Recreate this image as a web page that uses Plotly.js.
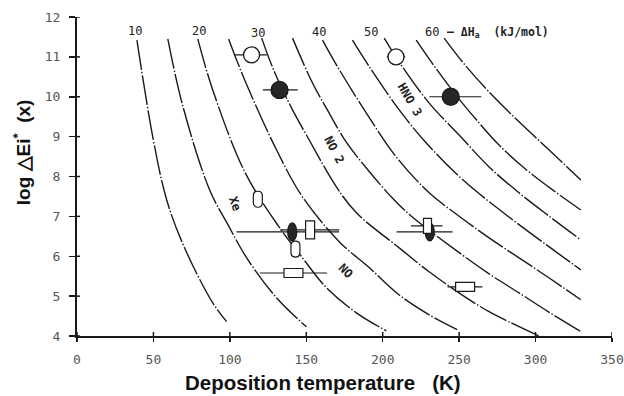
<!DOCTYPE html>
<html>
<head>
<meta charset="utf-8">
<script src="https://cdn.plot.ly/plotly-3.0.1.min.js"></script>
<style>html,body{margin:0;padding:0;background:#fff;}#chart{width:624px;height:396px;}</style>
</head>
<body>
<div id="chart"></div>
<script>
// ΔH iso-lines (kJ/mol): deposition temperature T (K) vs log ΔEi*(x)
const dH = [10, 15, 20, 25, 30, 35, 40, 45, 50, 55, 60];
const t10 = [39.2, 49.6, 58.7, 69.8, 88.8, 97.9];
const l10 = [11.42, 8.99, 7.41, 6.26, 4.83, 4.36];
const t15 = [59.4, 69.2, 86.8, 99.2, 111.0, 130.5, 150.1];
const l15 = [11.45, 9.77, 7.66, 6.76, 5.96, 4.96, 4.23];
const t20 = [79.0, 88.8, 109.7, 131.2, 147.5, 163.2, 182.8, 202.3];
const l20 = [11.45, 10.17, 8.12, 6.79, 5.96, 5.21, 4.58, 4.13];
const t25 = [99.2, 109.7, 130.5, 147.5, 171.7, 191.3, 210.8, 230.4, 248.7];
const l25 = [11.45, 10.42, 8.67, 7.49, 6.36, 5.71, 5.03, 4.53, 4.16];
const t30 = [120.8, 129.2, 141.0, 150.1, 169.7, 182.8, 210.8, 230.4, 250.0, 269.6, 302.2];
const l30 = [11.47, 10.62, 9.67, 9.04, 7.74, 7.09, 6.21, 5.61, 5.08, 4.61, 4.00];
const t35 = [141.0, 154.0, 163.8, 176.2, 191.3, 206.3, 218.0, 250.0, 269.6, 289.2, 308.7, 329.6];
const l35 = [11.47, 10.35, 9.67, 8.86, 8.12, 7.46, 7.03, 6.09, 5.56, 5.08, 4.60, 4.11];
const t40 = [160.6, 169.7, 189.3, 208.9, 230.4, 248.7, 269.6, 289.2, 308.7, 329.6];
const l40 = [11.42, 10.80, 9.59, 8.49, 7.59, 7.04, 6.46, 5.96, 5.46, 4.91];
const t45 = [180.2, 191.3, 210.8, 228.5, 252.6, 280.7, 308.7, 329.6];
const l45 = [11.42, 10.75, 9.67, 8.84, 7.91, 7.04, 6.24, 5.66];
const t50 = [201.0, 210.8, 230.4, 250.0, 269.6, 289.2, 308.7, 329.6];
const l50 = [11.47, 10.87, 9.84, 9.04, 8.24, 7.59, 7.01, 6.41];
const t55 = [221.9, 233.7, 246.7, 259.8, 276.1, 292.4, 312.0, 329.6];
const l55 = [11.42, 10.77, 10.10, 9.49, 8.79, 8.22, 7.64, 7.16];
const t60 = [240.2, 253.3, 269.6, 289.2, 308.7, 329.6];
const l60 = [11.47, 10.82, 10.12, 9.37, 8.67, 7.91];

// iso-line labels along the top
const isoLabels = ['10', '20', '30', '40', '50', '60'];
const isoLabelT = [37.9, 79.6, 118.2, 158.6, 192.4, 232.4];
const isoLabelLog = [11.66, 11.66, 11.60, 11.62, 11.62, 11.62];

// species labels
const specText = ['Xe', 'NO 2', 'HNO 3', 'NO'];
const specT = [103.1, 168.4, 218.0, 175.6];
const specLog = [7.33, 8.67, 9.93, 5.62];
const specAngle = [70, 62, 60, 45];

// circles (with horizontal error bars)
const circT = [114.2, 132.5, 208.7, 244.5];
const circLog = [11.05, 10.17, 11.00, 10.00];
const circErrMinus = [11.0, 10.9, 6.0, 14.0];
const circErrPlus = [10.0, 11.9, 6.0, 20.0];
const circFilled = [false, true, false, true];

// filled ovals
const ovalT = [140.8, 230.8];
const ovalLog = [6.61, 6.61];
const ovalErrMinus = [36.5, 21.7];
const ovalErrPlus = [30.7, 14.9];

// open capsules (no error bars)
const capT = [118.3, 142.9];
const capLog = [7.43, 6.18];

// vertical open rectangles
const vrT = [152.5, 229.3];
const vrLog = [6.66, 6.76];
const vrErrMinus = [19.5, 10.8];
const vrErrPlus = [19.0, 9.8];

// horizontal open rectangles
const hrT = [141.6, 253.9];
const hrLog = [5.58, 5.23];
const hrErrMinus = [22.0, 11.5];
const hrErrPlus = [22.0, 11.3];

const curvesT = [t10, t15, t20, t25, t30, t35, t40, t45, t50, t55, t60];
const curvesL = [l10, l15, l20, l25, l30, l35, l40, l45, l50, l55, l60];

const INK = '#1a1a1a';
const traces = [];
curvesT.forEach((ts, i) => {
  traces.push({
    type: 'scatter', mode: 'lines', x: ts, y: curvesL[i],
    name: 'ΔH = ' + dH[i] + ' kJ/mol', showlegend: false, hoverinfo: 'skip',
    line: {color: INK, width: 1.4, shape: 'spline', smoothing: 1, dash: '30px,2px,1.5px,2px'}
  });
});

function errTrace(x, y, minus, plus) {
  return {
    type: 'scatter', mode: 'markers', x: x, y: y, showlegend: false, hoverinfo: 'skip',
    marker: {size: 1, color: 'rgba(0,0,0,0)', opacity: 1},
    error_x: {type: 'data', symmetric: false, array: plus, arrayminus: minus,
              color: INK, thickness: 1.2, width: 0}
  };
}
traces.push(errTrace(ovalT, ovalLog, ovalErrMinus, ovalErrPlus));
traces.push(errTrace(vrT, vrLog, vrErrMinus, vrErrPlus));
traces.push(errTrace(hrT, hrLog, hrErrMinus, hrErrPlus));
traces.push({
  type: 'scatter', mode: 'markers', x: circT, y: circLog, showlegend: false, hoverinfo: 'skip',
  marker: {symbol: 'circle', size: circFilled.map(f => f ? 17 : 16), opacity: 1,
           color: circFilled.map(f => f ? '#262626' : '#ffffff'),
           line: {color: INK, width: 1.3}},
  error_x: {type: 'data', symmetric: false, array: circErrPlus, arrayminus: circErrMinus,
            color: INK, thickness: 1.2, width: 0}
});

// shapes for marker symbols Plotly lacks (pixel-sized, anchored at data points)
const shapes = [];
ovalT.forEach((t, i) => shapes.push({
  type: 'circle', layer: 'above', xref: 'x', yref: 'y',
  xsizemode: 'pixel', ysizemode: 'pixel', xanchor: t, yanchor: ovalLog[i],
  x0: -4.5, x1: 4.5, y0: -9, y1: 9,
  fillcolor: '#262626', line: {color: INK, width: 1.2}
}));
capT.forEach((t, i) => shapes.push({
  type: 'path', layer: 'above', xref: 'x', yref: 'y',
  xsizemode: 'pixel', ysizemode: 'pixel', xanchor: t, yanchor: capLog[i],
  path: 'M -4.5 -3.5 L -4.5 3.5 C -4.5 9.5 4.5 9.5 4.5 3.5 L 4.5 -3.5 C 4.5 -9.5 -4.5 -9.5 -4.5 -3.5 Z',
  fillcolor: '#ffffff', line: {color: INK, width: 1.2}
}));
const vrW = [9, 8], vrH = [18, 15];
vrT.forEach((t, i) => shapes.push({
  type: 'rect', layer: 'above', xref: 'x', yref: 'y',
  xsizemode: 'pixel', ysizemode: 'pixel', xanchor: t, yanchor: vrLog[i],
  x0: -vrW[i] / 2, x1: vrW[i] / 2, y0: -vrH[i] / 2, y1: vrH[i] / 2,
  fillcolor: '#ffffff', line: {color: INK, width: 1.2}
}));
hrT.forEach((t, i) => shapes.push({
  type: 'rect', layer: 'above', xref: 'x', yref: 'y',
  xsizemode: 'pixel', ysizemode: 'pixel', xanchor: t, yanchor: hrLog[i],
  x0: -9.5, x1: 9.5, y0: -4.5, y1: 4.5,
  fillcolor: '#ffffff', line: {color: INK, width: 1.2}
}));

const xTicks = [0, 50, 100, 150, 200, 250, 300, 350];
const yTicks = [4, 5, 6, 7, 8, 9, 10, 11, 12];
// inner halves of the crossing tick marks, anchored on the axes' tick values
xTicks.forEach(v => shapes.push({
  type: 'line', layer: 'above', xref: 'x', yref: 'paper', ysizemode: 'pixel', yanchor: 0,
  x0: v, x1: v, y0: 0, y1: 4, line: {color: INK, width: 1.5}
}));
yTicks.forEach(v => shapes.push({
  type: 'line', layer: 'above', xref: 'paper', yref: 'y', xsizemode: 'pixel', xanchor: 0,
  x0: 0, x1: 3, y0: v, y1: v, line: {color: INK, width: 1.5}
}));

const monoFont = {family: 'DejaVu Sans Mono, Liberation Mono, monospace', size: 12, color: '#222'};
const annotations = [];
isoLabels.forEach((s, i) => annotations.push({
  x: isoLabelT[i], y: isoLabelLog[i], xref: 'x', yref: 'y', text: s, showarrow: false,
  font: monoFont
}));
annotations.push({
  x: 241.0, y: 11.62, xref: 'x', yref: 'y', xanchor: 'left',
  text: '– ΔH<sub>a</sub>\u00a0\u00a0(kJ/mol)', showarrow: false,
  font: {family: 'DejaVu Sans Mono, monospace', size: 11.5, color: '#222', weight: 'bold'}
});
specText.forEach((s, i) => annotations.push({
  x: specT[i], y: specLog[i], xref: 'x', yref: 'y', text: s, showarrow: false,
  textangle: specAngle[i], font: {family: 'DejaVu Sans Mono, monospace', size: 12, color: '#222', weight: 'bold'}
}));
// axis titles
annotations.push({
  xref: 'paper', yref: 'paper', x: 0.4607, y: -0.147, xanchor: 'center', yanchor: 'middle',
  text: 'Deposition temperature\u00a0\u00a0\u00a0(K)', showarrow: false,
  font: {family: 'Liberation Sans, Arial, sans-serif', size: 20.5, color: '#111', weight: 'bold'}
});
annotations.push({
  xref: 'paper', yref: 'paper', x: -0.1034, y: 0.575, xanchor: 'center', yanchor: 'middle',
  text: 'log △Ei<sup>*</sup>\u00a0\u00a0(x)', textangle: -90, showarrow: false,
  font: {family: 'Liberation Sans, Arial, sans-serif', size: 19, color: '#111', weight: 'bold'}
});

const tickFont = {family: 'DejaVu Sans Mono, Liberation Mono, monospace', size: 13, color: '#555'};

const layout = {
  width: 624, height: 396,
  margin: {l: 77, r: 12, t: 17, b: 60},
  paper_bgcolor: '#ffffff', plot_bgcolor: '#ffffff',
  showlegend: false,
  xaxis: {range: [0, 350], tickvals: xTicks, ticks: 'outside', ticklen: 4, tickwidth: 1.5,
          tickcolor: INK, showline: true, linecolor: INK, linewidth: 2, showgrid: false,
          zeroline: false, tickfont: tickFont, ticklabelstandoff: 6, fixedrange: true},
  yaxis: {range: [4, 12], tickvals: yTicks, ticks: 'outside', ticklen: 6, tickwidth: 1.5,
          tickcolor: INK, showline: true, linecolor: INK, linewidth: 2, showgrid: false,
          zeroline: false, tickfont: tickFont, ticklabelstandoff: 6, fixedrange: true},
  shapes: shapes,
  annotations: annotations
};

Plotly.newPlot('chart', traces, layout, {displayModeBar: false, staticPlot: true});
</script>
</body>
</html>
